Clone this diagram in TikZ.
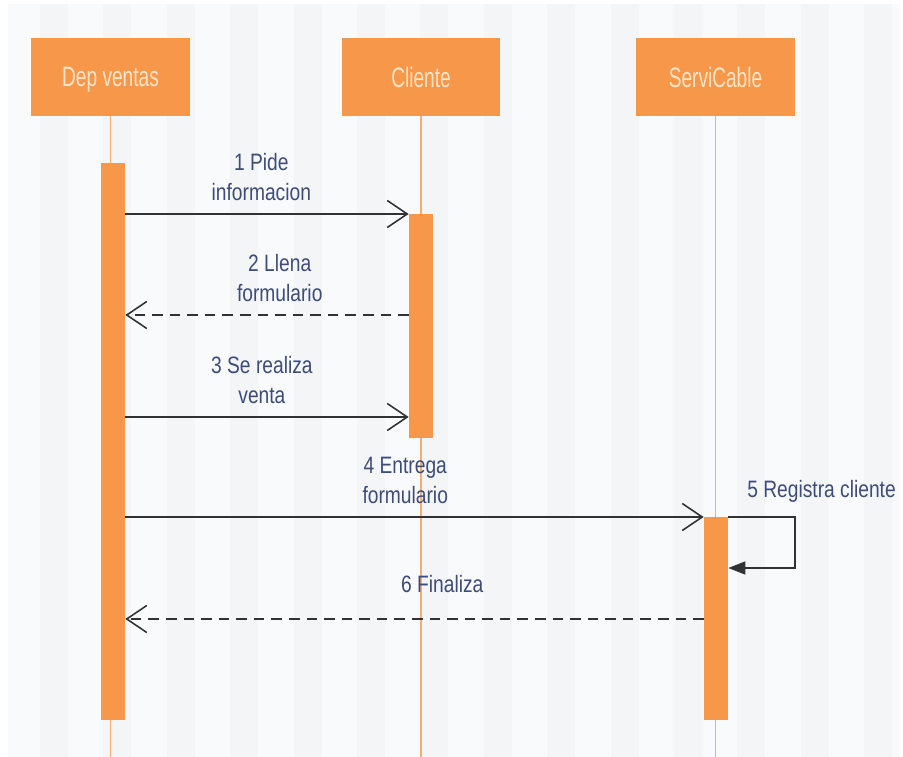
\documentclass[tikz,border=0pt]{standalone}
\usepackage{fontspec}
\setmainfont{Liberation Sans}
\newfontfamily\headfont[FakeStretch=0.68]{Liberation Sans}
\newfontfamily\msgfont[FakeStretch=0.81]{Liberation Sans}
\usetikzlibrary{arrows.meta}
\definecolor{umlorange}{RGB}{247,151,74}
\definecolor{lifeorange}{RGB}{249,172,112}
\definecolor{headtext}{RGB}{253,228,200}
\definecolor{msgtext}{RGB}{62,76,120}
\definecolor{msgline}{RGB}{50,50,50}
\definecolor{stripelight}{RGB}{249,250,251}
\definecolor{stripedark}{RGB}{243,245,247}

\begin{document}
\begin{tikzpicture}[
    x=0.02cm, y=-0.02cm,
    head/.style={rectangle, fill=umlorange, minimum width=3.18cm, minimum height=1.56cm, inner sep=0pt, text depth=0pt, text=headtext, font=\headfont\fontsize{16}{18}\selectfont},
    act/.style={rectangle, fill=umlorange, minimum width=0.48cm, inner sep=0pt, anchor=north},
    life/.style={lifeorange, line width=0.9pt},
    msg/.style={-{Straight Barb[length=4mm, width=5.4mm, line width=0.9pt]}, msgline, line width=0.9pt},
    reply/.style={msg, dash pattern=on 6pt off 4pt},
    selfmsg/.style={-{Triangle[length=3.4mm, width=2.6mm]}, msgline, line width=0.9pt},
    lbl/.style={text=msgtext, font=\msgfont\fontsize{13.5}{17.6}\selectfont, align=center, inner sep=0pt},
    msglbl/.style={lbl, anchor=south, yshift=0.24cm}
]
% background stripes
\useasboundingbox (0,0) rectangle (903,757);
\fill[white] (0,0) rectangle (903,757);
\fill[stripelight] (8,4) rectangle (900,757);
\foreach \k in {0,...,13}
    \fill[stripedark] ({40+63.4*\k},4) rectangle ++(28,753);

% lifelines
\node[head] (dep)  at (110.5,77) {Dep ventas};
\node[head] (cli)  at (421,77)   {Cliente};
\node[head] (serv) at (715.5,77) {ServiCable};
\coordinate (bottom) at (0,757);
\draw[life] (dep.south)  -- (dep.south |- bottom);
\draw[life] (cli.south)  -- (cli.south |- bottom);
\draw[life] (serv.south) -- (serv.south |- bottom);

% activations
\node[act, minimum height=11.14cm] (depact)  at (113,163) {};
\node[act, minimum height=4.48cm]  (cliact)  at (421,214) {};
\node[act, minimum height=4.06cm]  (servact) at (716,517) {};

% messages
\coordinate (m1) at (0,214);
\coordinate (m2) at (0,315);
\coordinate (m3) at (0,417);
\coordinate (m4) at (0,517);
\coordinate (m6) at (0,619);
\coordinate (loop) at (795,568);
\draw[msg] (depact.east |- m1) -- node[msglbl, pos=0.48]{1 Pide\\informacion} (cliact.west |- m1);
\draw[reply] (cliact.west |- m2) -- node[msglbl, pos=0.455]{2 Llena\\formulario} (depact.east |- m2);
\draw[msg] (depact.east |- m3) -- node[msglbl, pos=0.482]{3 Se realiza\\venta} (cliact.west |- m3);
\draw[msg] (depact.east |- m4) -- node[msglbl, pos=0.484]{4 Entrega\\formulario} (servact.west |- m4);
\draw[selfmsg] (servact.east |- m4) -| (loop) -- (servact.east |- loop);
\node[lbl, anchor=base west] (selflbl) at (747,497) {5 Registra cliente};
\draw[reply] (servact.west |- m6) -- node[lbl, anchor=base, pos=0.452, yshift=0.53cm]{6 Finaliza} (depact.east |- m6);
\end{tikzpicture}
\end{document}
